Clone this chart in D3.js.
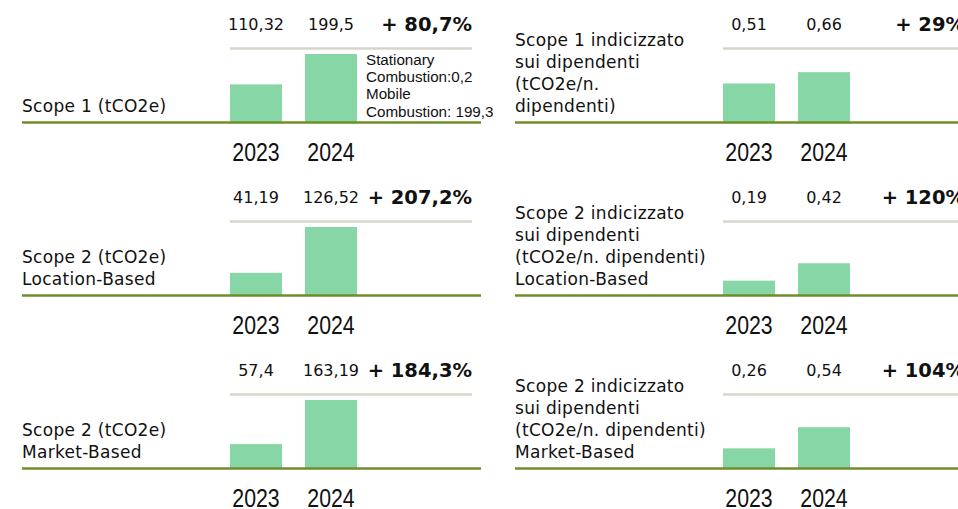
<!DOCTYPE html>
<html lang="it">
<head>
<meta charset="UTF-8">
<title>Scope 1 e 2</title>
<script src="https://cdn.jsdelivr.net/npm/d3@7"></script>
<style>
  html, body { margin: 0; padding: 0; background: #fff; overflow: hidden; }
</style>
</head>
<body>
<script>
  // data
  var years = ["2023", "2024"];

  var leftTitles = [
    ["Scope 1 (tCO2e)"],
    ["Scope 2 (tCO2e)", "Location-Based"],
    ["Scope 2 (tCO2e)", "Market-Based"]
  ];
  var leftValues = [[110.32, 199.5], [41.19, 126.52], [57.4, 163.19]];
  var leftChange = [80.7, 207.2, 184.3];

  var rightTitles = [
    ["Scope 1 indicizzato", "sui dipendenti", "(tCO2e/n.", "dipendenti)"],
    ["Scope 2 indicizzato", "sui dipendenti", "(tCO2e/n. dipendenti)", "Location-Based"],
    ["Scope 2 indicizzato", "sui dipendenti", "(tCO2e/n. dipendenti)", "Market-Based"]
  ];
  var rightValues = [[0.51, 0.66], [0.19, 0.42], [0.26, 0.54]];
  var rightChange = [29, 120, 104];

  var scope1Note = ["Stationary", "Combustion:0,2", "Mobile", "Combustion: 199,3"];

  drawChart();

  function drawChart() {
    var width = 958, height = 509;
    var barColor = "#87d7a6";
    var baseColor = "#6f8e2b";
    var greyColor = "#d7d5c8";
    var titleFont = "'DejaVu Sans', sans-serif";

    var svg = d3.select("body").append("svg")
      .attr("width", width)
      .attr("height", height);

    var comma = function (v) { return String(v).replace(".", ","); };

    // local panel layout: baseline at y=122
    var baseY = 122;
    var x = d3.scaleBand()
      .domain(years)
      .range([230, 357])
      .paddingInner(23 / 75)
      .paddingOuter(0);

    function panel(dx, dy, titles, values, change, maxValue) {
      var g = svg.append("g").attr("transform", "translate(" + dx + "," + dy + ")");

      var y = d3.scaleLinear()
        .domain([0, maxValue])
        .range([baseY, baseY - 68]);

      // grey top rule
      g.append("line")
        .attr("x1", 230).attr("x2", 472)
        .attr("y1", 48.5).attr("y2", 48.5)
        .attr("stroke", greyColor).attr("stroke-width", 2.5);

      // bars
      g.selectAll("rect.bar").data(values).enter().append("rect")
        .attr("class", "bar")
        .attr("x", function (d, i) { return x(years[i]); })
        .attr("width", x.bandwidth())
        .attr("y", function (d) { return y(d); })
        .attr("height", function (d) { return y(0) - y(d); })
        .attr("fill", barColor);

      // baseline
      g.append("line")
        .attr("x1", 22).attr("x2", 481)
        .attr("y1", baseY + 0.5).attr("y2", baseY + 0.5)
        .attr("stroke", baseColor).attr("stroke-width", 2.5);

      // value labels
      g.selectAll("text.val").data(values).enter().append("text")
        .attr("class", "val")
        .attr("x", function (d, i) { return x(years[i]) + x.bandwidth() / 2; })
        .attr("y", 30)
        .attr("text-anchor", "middle")
        .style("font-family", titleFont)
        .style("font-size", "16px")
        .style("fill", "#111")
        .text(function (d) { return comma(d); });

      // change
      g.append("text")
        .attr("x", 472)
        .attr("y", 31)
        .attr("text-anchor", "end")
        .style("font-family", titleFont)
        .style("font-size", "19.5px")
        .style("font-weight", "bold")
        .style("fill", "#111")
        .text("+ " + comma(change) + "%");

      // year labels (condensed)
      g.selectAll("text.year").data(years).enter().append("text")
        .attr("class", "year")
        .attr("transform", function (d) {
          return "translate(" + (x(d) + x.bandwidth() / 2) + ",161) scale(0.82,1)";
        })
        .attr("text-anchor", "middle")
        .style("font-family", "'Liberation Sans', Arial, sans-serif")
        .style("font-size", "26px")
        .style("fill", "#111")
        .text(function (d) { return d; });

      // title
      var n = titles.length;
      g.selectAll("text.title").data(titles).enter().append("text")
        .attr("class", "title")
        .attr("x", 22)
        .attr("y", function (d, i) { return baseY - 10 - (n - 1 - i) * 22; })
        .style("font-family", titleFont)
        .style("font-size", "17px")
        .style("letter-spacing", "0.3px")
        .style("fill", "#111")
        .text(function (d) { return d; });

      return g;
    }

    var rowStep = 173;
    var rightMax = 0.9;
    for (var r = 0; r < 3; r++) {
      var gl = panel(0, r * rowStep, leftTitles[r], leftValues[r], leftChange[r], d3.max(leftValues[r]));
      panel(493, r * rowStep, rightTitles[r], rightValues[r], rightChange[r], rightMax);

      if (r === 0) {
        gl.selectAll("text.note").data(scope1Note).enter().append("text")
          .attr("class", "note")
          .attr("x", 366)
          .attr("y", function (d, i) { return 65 + i * 17.2; })
          .style("font-family", "'Liberation Sans', Arial, sans-serif")
          .style("font-size", "15.2px")
          .style("fill", "#111")
          .text(function (d) { return d; });
      }
    }
  }
</script>
</body>
</html>
